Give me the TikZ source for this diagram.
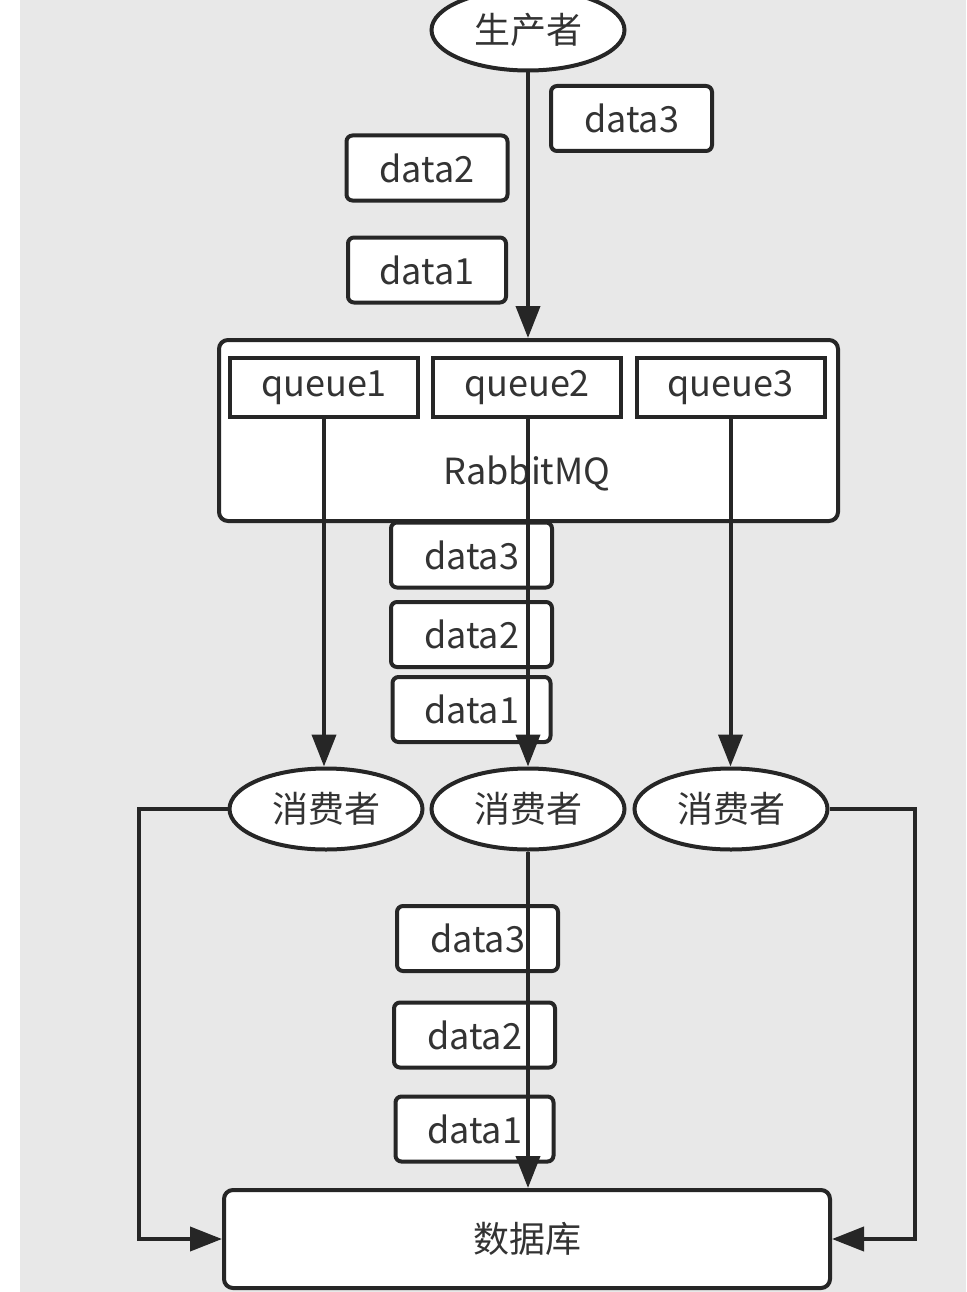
\documentclass[tikz,border=0pt]{standalone}
\usepackage{fontspec}
\setmainfont{Noto Sans CJK SC}
\usetikzlibrary{arrows.meta,shapes.geometric}
\definecolor{bg}{HTML}{E8E8E8}
\definecolor{ln}{HTML}{262626}
\definecolor{tx}{HTML}{333333}
\begin{document}
\begin{tikzpicture}[x=1pt,y=-1pt,
  every node/.style={text=tx,font=\fontsize{36}{40}\selectfont,inner sep=0pt},
  ell/.style={ellipse,draw=ln,line width=4pt,fill=white,minimum width=193pt,minimum height=81pt},
  databox/.style={draw=ln,line width=4pt,fill=white,rounded corners=6pt,minimum width=161pt,minimum height=65pt},
  qbox/.style={draw=ln,line width=4pt,fill=white,minimum width=188pt,minimum height=59pt},
  bigbox/.style={draw=ln,line width=4pt,fill=white,rounded corners=9pt},
  arr/.style={draw=ln,line width=4pt,-{Triangle[length=32pt,width=24pt]}},
  ln/.style={draw=ln,line width=4pt}]
\useasboundingbox (0,0) rectangle (966,1292);
\fill[bg] (20,0) rectangle (966,1292);
% producer
\node[ell] (prod) at (528,30) {生产者};
% top data
\node[databox] (td3) at (631.5,118.5) {data3};
\node[databox] (td2) at (427,168) {data2};
\node[databox,minimum width=158pt] (td1) at (427,270) {data1};
% rabbitmq
\node[bigbox,minimum width=619pt,minimum height=181pt] (rmq) at (528.5,430.5) {};
\node (rmqlabel) at (527,473) {RabbitMQ};
\node[qbox] (q1) at (324,387.5) {queue1};
\node[qbox] (q2) at (527,387.5) {queue2};
\node[qbox] (q3) at (730.5,387.5) {queue3};
% middle data
\node[databox] (md3) at (471.5,555) {data3};
\node[databox] (md2) at (471.5,634.5) {data2};
\node[databox,minimum width=158pt] (md1) at (471.5,709.5) {data1};
% consumers
\node[ell] (c1) at (326,809) {消费者};
\node[ell] (c2) at (528,809) {消费者};
\node[ell] (c3) at (731,809) {消费者};
% lower data
\node[databox] (ld3) at (477.5,938.5) {data3};
\node[databox] (ld2) at (474.5,1035) {data2};
\node[databox,minimum width=158pt] (ld1) at (474.5,1129) {data1};
% database
\node[bigbox,minimum width=606pt,minimum height=98pt] (db) at (527,1239) {数据库};
% connectors
\draw[arr] (prod.south) -- (prod.south |- rmq.north);
\draw[arr] (q1.south) -- (q1.south |- c1.north);
\draw[arr] (prod.south |- q2.south) -- (prod.south |- c2.north);
\draw[arr] (q3.south) -- (q3.south |- c3.north);
\draw[arr] (c2.south) -- (c2.south |- db.north);
\draw[arr] (c1.west) -- ++(-89,0) |- (db.west);
\draw[arr] (c3.east) -- ++(85,0) |- (db.east);
\end{tikzpicture}
\end{document}
